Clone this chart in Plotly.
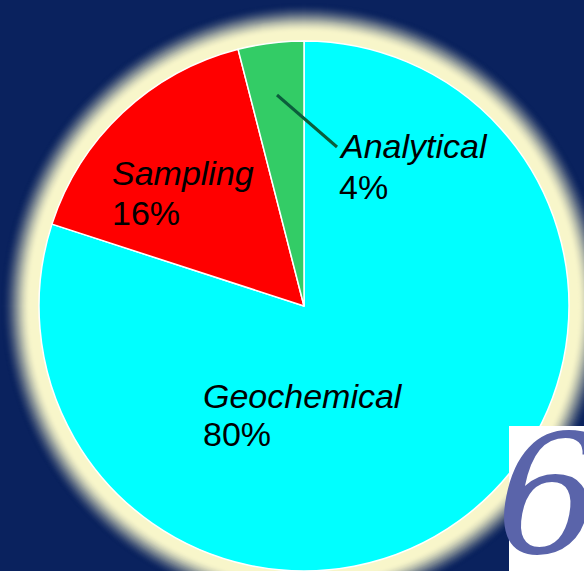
import plotly.graph_objects as go

labels = ["Geochemical", "Sampling", "Analytical"]
values = [80, 16, 4]
colors = ["#00FFFF", "#FF0000", "#33CC66"]
name_text = ["Geochemical", "Sampling", "Analytical"]
pct_text = ["80%", "16%", "4%"]

W, H = 584, 571
def px(x): return x / W
def py(y): return 1 - y / H

cx, cy, R = 304, 306, 265
navy = (10, 34, 94)
cream = (248, 246, 202)

fig = go.Figure(go.Pie(
    labels=labels, values=values, sort=False, direction="clockwise",
    rotation=0, marker=dict(colors=colors, line=dict(color="white", width=1.5)),
    textinfo="none", hoverinfo="label+percent", showlegend=False,
    domain=dict(x=[px(cx - R), px(cx + R)], y=[py(cy + R), py(cy - R)]),
))

shapes = []
outer, solid = 38, 9
for d in range(outer, solid - 1, -1):
    t = (outer - d) / (outer - solid)
    t = t * t * (3 - 2 * t)
    c = tuple(int(round(navy[i] + (cream[i] - navy[i]) * t)) for i in range(3))
    r = R + d
    shapes.append(dict(type="circle", xref="paper", yref="paper", layer="below",
                       x0=px(cx - r), x1=px(cx + r), y0=py(cy + r), y1=py(cy - r),
                       fillcolor="rgb(%d,%d,%d)" % c, line=dict(width=0)))
# leader line
shapes.append(dict(type="line", xref="paper", yref="paper", layer="above",
                   x0=px(277), y0=py(95), x1=px(337), y1=py(147),
                   line=dict(color="#0B5E3C", width=3)))
# logo box
shapes.append(dict(type="rect", xref="paper", yref="paper", layer="above",
                   x0=px(509), x1=px(590), y0=py(575), y1=py(426),
                   fillcolor="white", line=dict(width=0)))

annotations = []
font = dict(family="Liberation Sans, Arial", size=34, color="black")
# (left x, name cap-center y, pct cap-center y)
pos = [(201, 396, 434), (110, 173, 213), (337, 146, 187)]
for (x, y1, y2), nm, pc in zip(pos, name_text, pct_text):
    annotations.append(dict(text="<i>%s</i>" % nm, x=px(x), y=py(y1), xref="paper", yref="paper",
                            xanchor="left", yanchor="middle", showarrow=False, font=font))
    annotations.append(dict(text=pc, x=px(x), y=py(y2), xref="paper", yref="paper",
                            xanchor="left", yanchor="middle", showarrow=False, font=font))
annotations.append(dict(text="6", x=px(494), y=py(398), xref="paper", yref="paper",
                        xanchor="left", yanchor="top", showarrow=False,
                        font=dict(family="DejaVu Serif, Liberation Serif, serif", size=165,
                                  style="italic", color="#5A64AA")))

fig.update_layout(width=W, height=H, margin=dict(l=0, r=0, t=0, b=0),
                  paper_bgcolor="rgb(10,34,94)", plot_bgcolor="rgb(10,34,94)",
                  shapes=shapes, annotations=annotations)
fig.write_html("out.html", config={"displayModeBar": False},
               post_script="document.body.style.margin='0';document.body.style.overflow='hidden';")
